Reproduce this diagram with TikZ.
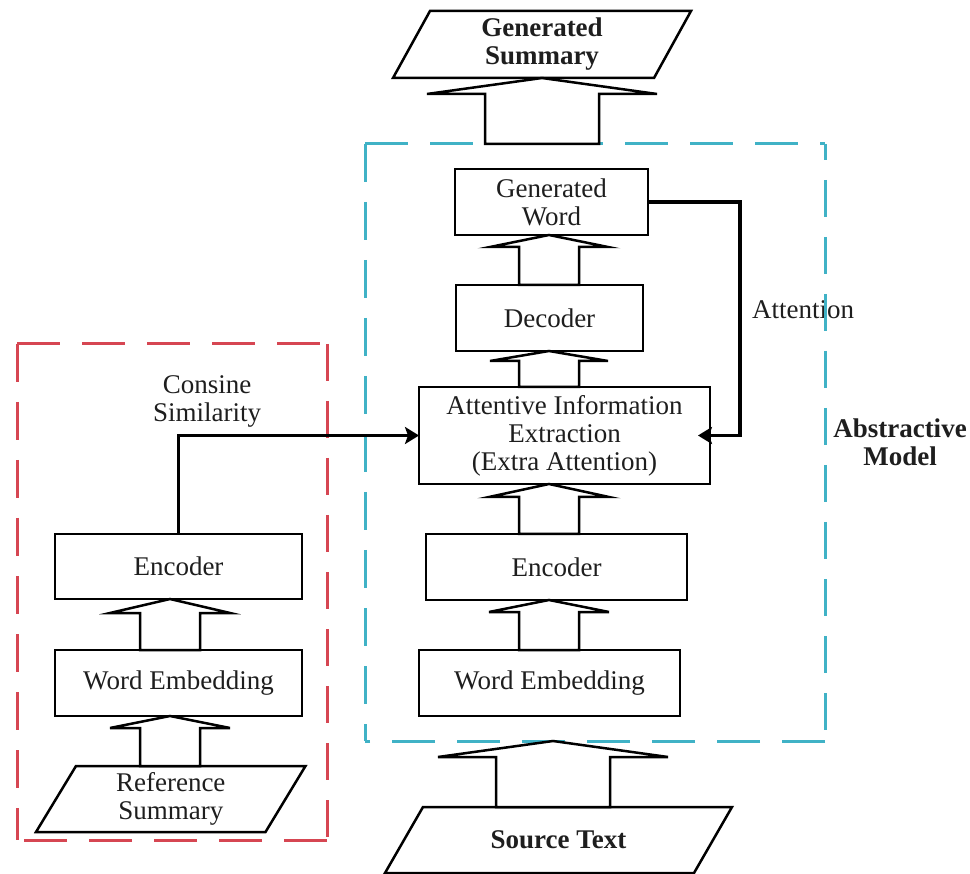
\documentclass[tikz,border=0pt]{standalone}
\usepackage{fontspec}
\setmainfont{Liberation Serif}
\usetikzlibrary{calc,arrows.meta}

\definecolor{absblue}{RGB}{64,178,198}
\definecolor{cosred}{RGB}{214,70,82}
\definecolor{ink}{RGB}{30,30,30}

\tikzset{
  every node/.style={font=\fontsize{27}{28}\selectfont, text=ink, align=center, inner sep=0pt, outer sep=0pt},
  stagebox/.style={draw=black, line width=2.5pt, fill=white, minimum height=66pt},
  slanttext/.style={minimum height=66pt},
  frameside/.style={draw=#1, line width=3pt, line cap=butt},
  hollow/.style={draw=black, line width=2.5pt, fill=white, line join=miter},
  flow/.style={draw=black, line width=3.5pt, -{Stealth[length=14pt,width=17pt,inset=3pt]}},
}

% hollow block arrow pointing up: #1 lower node, #2 upper node, #3 axis,
% #4 shaft half width, #5 head half width, #6 head length
\newcommand{\hollowup}[6]{%
  \draw[hollow]
    ($(#3 |- #1.north)+(-#4,0)$) -- ($(#3 |- #2.south)+(-#4,#6)$) --
    ($(#3 |- #2.south)+(-#5,#6)$) -- (#3 |- #2.south) --
    ($(#3 |- #2.south)+(#5,#6)$) -- ($(#3 |- #2.south)+(#4,#6)$) --
    ($(#3 |- #1.north)+(#4,0)$) -- cycle;}

% slanted frame round a text node: #1 node, #2 half width at mid height, #3 half lean
\newcommand{\slantframe}[3]{%
  \draw[line width=2.5pt, line join=miter]
    ($(#1.north)+(-#2+#3,0)$) -- ($(#1.north)+(#2+#3,0)$) --
    ($(#1.south)+(#2-#3,0)$) -- ($(#1.south)+(-#2-#3,0)$) -- cycle;}

% dashed group outline round an empty node: #1 node, #2 colour, #3 side dash phase (right side)
\newcommand{\groupframe}[3]{%
  \draw[frameside=#2, dash pattern=on 43pt off 22pt] (#1.north west) -- (#1.north east);
  \draw[frameside=#2, dash pattern=on 43pt off 22pt] (#1.south east) -- (#1.south west);
  \draw[frameside=#2, dash pattern=on 38pt off 20pt] (#1.north west) -- (#1.south west);
  \draw[frameside=#2, dash pattern=on 37pt off 20pt, dash phase=#3] (#1.north east) -- (#1.south east);}

\begin{document}
\begin{tikzpicture}[x=1pt, y=-1pt]
\useasboundingbox (0,0) rectangle (970,874);

% axes of the block arrows
\coordinate (axtop) at (542,0);
\coordinate (axmain) at (549,0);
\coordinate (axsrc) at (553,0);
\coordinate (axleft) at (170,0);

% free labels
\node (attl) at (803,310) {Attention};
\node (cosl) at (207,401) {Consine\\Similarity};
\node (absl) at (900,442) {\textbf{Abstractive}\\\textbf{Model}};

% dashed groups
\node[minimum width=460pt, minimum height=597pt] (abs) at (595,442.5) {};
\groupframe{abs}{absblue}{21pt}
\node[minimum width=310pt, minimum height=496pt] (cos) at (172,592) {};
\groupframe{cos}{cosred}{0pt}

% abstractive model column
\node[stagebox, minimum width=193pt] (gw) at (551.5,202) {Generated\\Word};
\node[stagebox, minimum width=187pt] (dec) at (549.5,318) {Decoder};
\node[stagebox, minimum width=291pt, minimum height=97pt] (aie) at (564.5,435.5)
  {Attentive Information\\Extraction\\(Extra Attention)};
\node[stagebox, minimum width=261pt] (enc) at (556.5,567) {Encoder};
\node[stagebox, minimum width=261pt] (emb) at (549.5,683) {Word Embedding};

% reference branch
\node[stagebox, minimum width=247pt, minimum height=65pt] (lenc) at (178.5,566.5) {Encoder};
\node[stagebox, minimum width=247pt] (lemb) at (178.5,683) {Word Embedding};

% input and output documents
\node[slanttext, minimum height=67pt] (gsum) at (542,44.5) {\textbf{Generated}\\\textbf{Summary}};
\slantframe{gsum}{130.5}{18.5}
\node[slanttext] (ref) at (170.75,799) {Reference\\Summary};
\slantframe{ref}{114.75}{20}
\node[slanttext] (src) at (558.5,840) {\textbf{Source Text}};
\slantframe{src}{154.5}{19}

% block arrows
\hollowup{abs}{gsum}{axtop}{57}{115}{16}
\hollowup{dec}{gw}{axmain}{30}{59}{12}
\hollowup{aie}{dec}{axmain}{30}{59}{10}
\hollowup{enc}{aie}{axmain}{30}{60}{13}
\hollowup{emb}{enc}{axmain}{30}{60}{12}
\hollowup{src}{abs}{axsrc}{57}{115}{16}
\hollowup{lemb}{lenc}{axleft}{30}{60}{14}
\hollowup{ref}{lemb}{axleft}{30}{60}{12}

% similarity and attention connectors
\draw[flow] (lenc.north) |- (aie.west);
\draw[flow, shorten >=-12pt] (gw.east) -| ($(aie.east)+(30,0)$) -- (aie.east);
\end{tikzpicture}
\end{document}
